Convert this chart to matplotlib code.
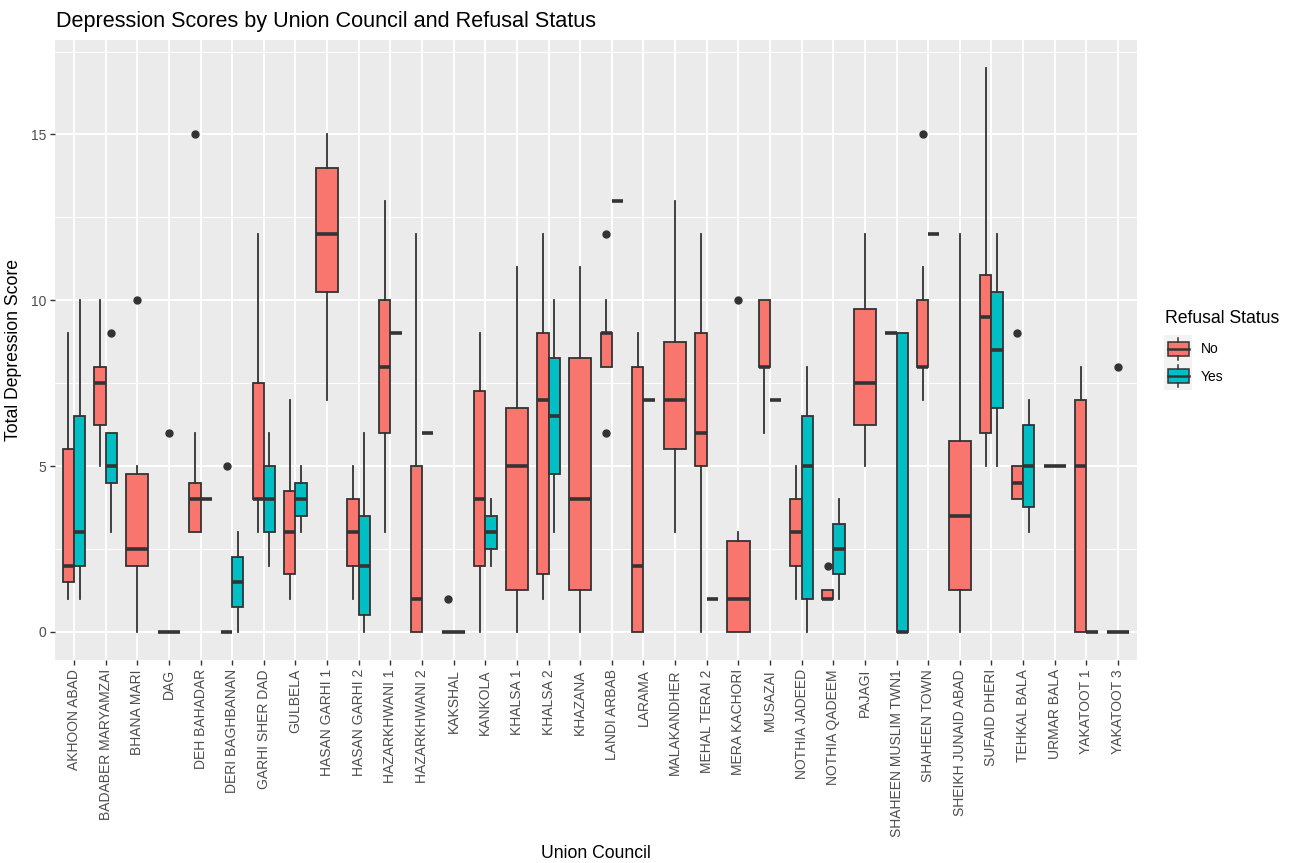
import matplotlib
matplotlib.use('Agg')
import matplotlib.pyplot as plt
from matplotlib.patches import Rectangle
from matplotlib.lines import Line2D

plt.rcParams['font.family'] = ['Liberation Sans', 'DejaVu Sans']

categories = ["AKHOON ABAD", "BADABER MARYAMZAI", "BHANA MARI", "DAG", "DEH BAHADAR",
              "DERI BAGHBANAN", "GARHI SHER DAD", "GULBELA", "HASAN GARHI 1", "HASAN GARHI 2",
              "HAZARKHWANI 1", "HAZARKHWANI 2", "KAKSHAL", "KANKOLA", "KHALSA 1", "KHALSA 2",
              "KHAZANA", "LANDI ARBAB", "LARAMA", "MALAKANDHER", "MEHAL TERAI 2", "MERA KACHORI",
              "MUSAZAI", "NOTHIA JADEED", "NOTHIA QADEEM", "PAJAGI", "SHAHEEN MUSLIM TWN1",
              "SHAHEEN TOWN", "SHEIKH JUNAID ABAD", "SUFAID DHERI", "TEHKAL BALA", "URMAR BALA",
              "YAKATOOT 1", "YAKATOOT 3"]

# Refusal Status = No
no_lo  = [1, 5, 0, 0, 3, 0, 3, 1, 7, 1, 3, 0, 0, 0, 0, 1, 0, 8, 0, 3, 0, 0, 6, 1, 1, 5, 9, 7, 0, 5, 4, 5, 0, 0]
no_q1  = [1.5, 6.25, 2, 0, 3, 0, 4, 1.75, 10.25, 2, 6, 0, 0, 2, 1.25, 1.75, 1.25, 8, 0, 5.5, 5, 0, 8, 2, 1, 6.25, 9, 8, 1.25, 6, 4, 5, 0, 0]
no_med = [2, 7.5, 2.5, 0, 4, 0, 4, 3, 12, 3, 8, 1, 0, 4, 5, 7, 4, 9, 2, 7, 6, 1, 8, 3, 1, 7.5, 9, 8, 3.5, 9.5, 4.5, 5, 5, 0]
no_q3  = [5.5, 8, 4.75, 0, 4.5, 0, 7.5, 4.25, 14, 4, 10, 5, 0, 7.25, 6.75, 9, 8.25, 9, 8, 8.75, 9, 2.75, 10, 4, 1.25, 9.75, 9, 10, 5.75, 10.75, 5, 5, 7, 0]
no_hi  = [9, 10, 5, 0, 6, 0, 12, 7, 15, 5, 13, 12, 0, 9, 11, 12, 11, 10, 9, 13, 12, 3, 10, 5, 1.25, 12, 9, 11, 12, 17, 5, 5, 8, 0]
no_out = [[], [], [10], [6], [15], [5], [], [], [], [], [], [], [1], [], [], [], [], [12, 6], [], [],
          [], [10], [], [], [2], [], [], [15], [], [], [9], [], [], [8]]

# Refusal Status = Yes (None = no respondents in that group)
N = None
yes_lo  = [1, 3, N, N, 4, 0, 2, 3, N, 0, 9, 6, 0, 2, N, 3, N, 13, 7, N, 1, N, 7, 0, 1, N, 0, 12, N, 5, 3, 5, 0, N]
yes_q1  = [2, 4.5, N, N, 4, 0.75, 3, 3.5, N, 0.5, 9, 6, 0, 2.5, N, 4.75, N, 13, 7, N, 1, N, 7, 1, 1.75, N, 0, 12, N, 6.75, 3.75, 5, 0, N]
yes_med = [3, 5, N, N, 4, 1.5, 4, 4, N, 2, 9, 6, 0, 3, N, 6.5, N, 13, 7, N, 1, N, 7, 5, 2.5, N, 0, 12, N, 8.5, 5, 5, 0, N]
yes_q3  = [6.5, 6, N, N, 4, 2.25, 5, 4.5, N, 3.5, 9, 6, 0, 3.5, N, 8.25, N, 13, 7, N, 1, N, 7, 6.5, 3.25, N, 9, 12, N, 10.25, 6.25, 5, 0, N]
yes_hi  = [10, 6, N, N, 4, 3, 6, 5, N, 6, 9, 6, 0, 4, N, 10, N, 13, 7, N, 1, N, 7, 8, 4, N, 9, 12, N, 12, 7, 5, 0, N]
yes_out = [[], [9], [], [], [], [], [], [], [], [], [], [], [], [], [], [], [], [], [], [],
           [], [], [], [], [], [], [], [], [], [], [], [], [], []]

col_no, col_yes = '#F8766D', '#00BFC4'
edge = '#333333'

fig = plt.figure(figsize=(12.9, 8.63), dpi=100)
ax = fig.add_axes([55/1290, 1 - 660/863, (1137-55)/1290, (660-40)/863])
ax.set_facecolor('#EBEBEB')
for s in ax.spines.values():
    s.set_visible(False)

total_w = 0.71
stats_no, pos_no, w_no = [], [], []
stats_yes, pos_yes, w_yes = [], [], []
for i in range(len(categories)):
    x = i + 1
    has_yes = yes_med[i] is not None
    w = total_w / 2 if has_yes else total_w
    off = total_w / 4 if has_yes else 0
    stats_no.append(dict(med=no_med[i], q1=no_q1[i], q3=no_q3[i], whislo=no_lo[i],
                         whishi=no_hi[i], fliers=no_out[i]))
    pos_no.append(x - off); w_no.append(w)
    if has_yes:
        stats_yes.append(dict(med=yes_med[i], q1=yes_q1[i], q3=yes_q3[i], whislo=yes_lo[i],
                              whishi=yes_hi[i], fliers=yes_out[i]))
        pos_yes.append(x + off); w_yes.append(w)

common = dict(patch_artist=True, showcaps=False, manage_ticks=False,
              whiskerprops=dict(color=edge, linewidth=1.3),
              medianprops=dict(color=edge, linewidth=2.6, solid_capstyle='butt'),
              flierprops=dict(marker='o', markerfacecolor=edge, markeredgecolor=edge,
                              markersize=5, linestyle='none'),
              zorder=3)
ax.bxp(stats_no, positions=pos_no, widths=w_no,
       boxprops=dict(facecolor=col_no, edgecolor=edge, linewidth=1.3), **common)
ax.bxp(stats_yes, positions=pos_yes, widths=w_yes,
       boxprops=dict(facecolor=col_yes, edgecolor=edge, linewidth=1.3), **common)

ax.set_xlim(0.4, len(categories) + 0.6)
ax.set_ylim(-0.85, 17.85)
ax.set_xticks(range(1, len(categories) + 1))
ax.set_xticklabels(categories, rotation=90, ha='center', va='top')
ax.set_yticks([0, 5, 10, 15])
ax.set_yticklabels(['0', '5', '10', '15'])
ax.set_yticks([2.5, 7.5, 12.5, 17.5], minor=True)
ax.grid(which='major', color='white', linewidth=1.4, zorder=0)
ax.grid(which='minor', axis='y', color='white', linewidth=0.7, zorder=0)
ax.set_axisbelow(True)
ax.tick_params(which='major', length=3.5, width=1.0, color=edge, labelcolor='#4D4D4D',
               labelsize=10, pad=3)
ax.tick_params(which='minor', length=0)

ax.set_xlabel('Union Council', fontsize=12.7, labelpad=6)
ax.set_ylabel('Total Depression Score', fontsize=12.7, labelpad=6)
fig.text(56/1290, 1 - 27/863, 'Depression Scores by Union Council and Refusal Status',
         fontsize=15.6, ha='left', va='baseline')

# legend
lax = fig.add_axes([1164/1290, 1 - 390/863, 28/1290, 55/863])
lax.set_xlim(0, 28); lax.set_ylim(55, 0); lax.axis('off')
for k, (lab, c) in enumerate([('No', col_no), ('Yes', col_yes)]):
    y0 = k * 27.5
    lax.add_patch(Rectangle((0, y0), 28, 27.5, facecolor='#F2F2F2', edgecolor='none'))
    lax.add_line(Line2D([14, 14], [y0 + 2.75, y0 + 6.9], color=edge, lw=1.1))
    lax.add_line(Line2D([14, 14], [y0 + 20.6, y0 + 24.75], color=edge, lw=1.1))
    lax.add_patch(Rectangle((3.5, y0 + 6.9), 21, 13.7, facecolor=c, edgecolor=edge, lw=1.1))
    lax.add_line(Line2D([3.5, 24.5], [y0 + 13.75, y0 + 13.75], color=edge, lw=1.8))
    fig.text(1201/1290, 1 - (349 + k * 28)/863, lab, fontsize=10, ha='left', va='center')
fig.text(1165/1290, 1 - 318/863, 'Refusal Status', fontsize=12.7, ha='left', va='center')

fig.savefig('out.png', dpi=100)
